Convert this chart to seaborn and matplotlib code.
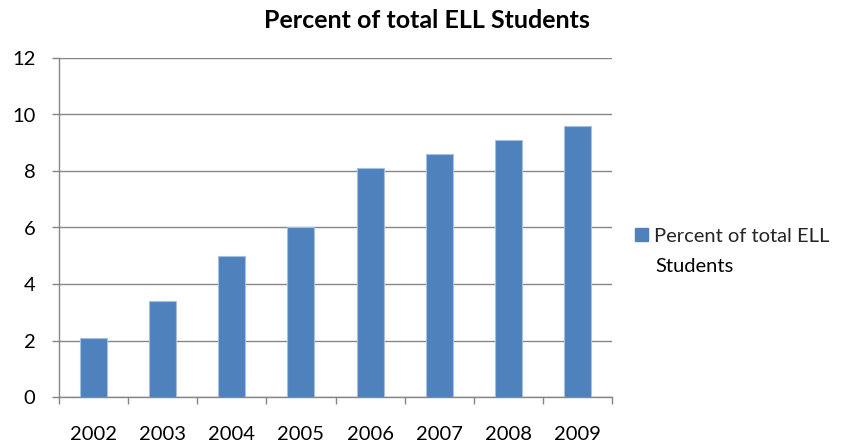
import matplotlib
matplotlib.use("Agg")
import matplotlib.pyplot as plt
import seaborn as sns
import pandas as pd
from matplotlib.patches import Patch

years = ["2002", "2003", "2004", "2005", "2006", "2007", "2008", "2009"]
percent_ell = [2.1, 3.4, 5.0, 6.0, 8.1, 8.6, 9.1, 9.6]
y_ticks = [0, 2, 4, 6, 8, 10, 12]
series_name = "Percent of total ELL Students"

sns.set_theme(style="white")
plt.rcParams["font.family"] = ["Lato", "DejaVu Sans"]

bar_color = "#4F81BD"
grid_color = "#868686"
label_size = 14.5

df = pd.DataFrame({"year": years, "value": percent_ell})

fig = plt.figure(figsize=(8.46, 4.48), dpi=100)
ax = fig.add_axes([59 / 846, 51 / 448, (612 - 59) / 846, (397 - 58) / 448])

sns.barplot(data=df, x="year", y="value", color=bar_color, saturation=1,
            width=0.39, edgecolor="#A7C0DE", linewidth=0.8, ax=ax, zorder=3)

ax.set_ylim(0, 12)
ax.set_xlim(-0.5, len(years) - 0.5)
ax.set_yticks(y_ticks)
ax.set_yticklabels([str(t) for t in y_ticks], fontsize=label_size, color="black")
ax.yaxis.grid(True, color=grid_color, linewidth=1.0, zorder=0)
ax.set_axisbelow(True)

# Category boundary ticks below the axis, labels centred under bars
ax.set_xticks(range(len(years)))
ax.set_xticklabels(years, fontsize=label_size, color="black")
ax.set_xticks([i - 0.5 for i in range(len(years) + 1)], minor=True)
ax.tick_params(axis="x", which="major", length=0, pad=21)
ax.tick_params(axis="x", which="minor", length=5, width=1, color=grid_color,
               direction="out", bottom=True)
ax.tick_params(axis="y", which="major", length=5, width=1, color=grid_color,
               direction="out", left=True, pad=12)

for side in ["top", "right"]:
    ax.spines[side].set_visible(False)
for side in ["left", "bottom"]:
    ax.spines[side].set_color(grid_color)
    ax.spines[side].set_linewidth(1.0)

ax.set_xlabel("")
ax.set_ylabel("")

fig.text(427 / 846, 1 - 21 / 448, series_name, ha="center", va="center",
         fontsize=18, fontweight="bold", color="black")

handle = Patch(facecolor=bar_color, edgecolor=bar_color)
leg = fig.legend([handle], ["Percent of total ELL"], loc="center left",
                 bbox_to_anchor=(635 / 846, 1 - 236 / 448), frameon=False,
                 fontsize=label_size, handlelength=0.65, handleheight=0.65,
                 handletextpad=0.3, borderpad=0, borderaxespad=0)
fig.text(655 / 846, 1 - 266 / 448, "Students", ha="left", va="center",
         fontsize=label_size, color="black")

fig.savefig("out.png", dpi=100)
